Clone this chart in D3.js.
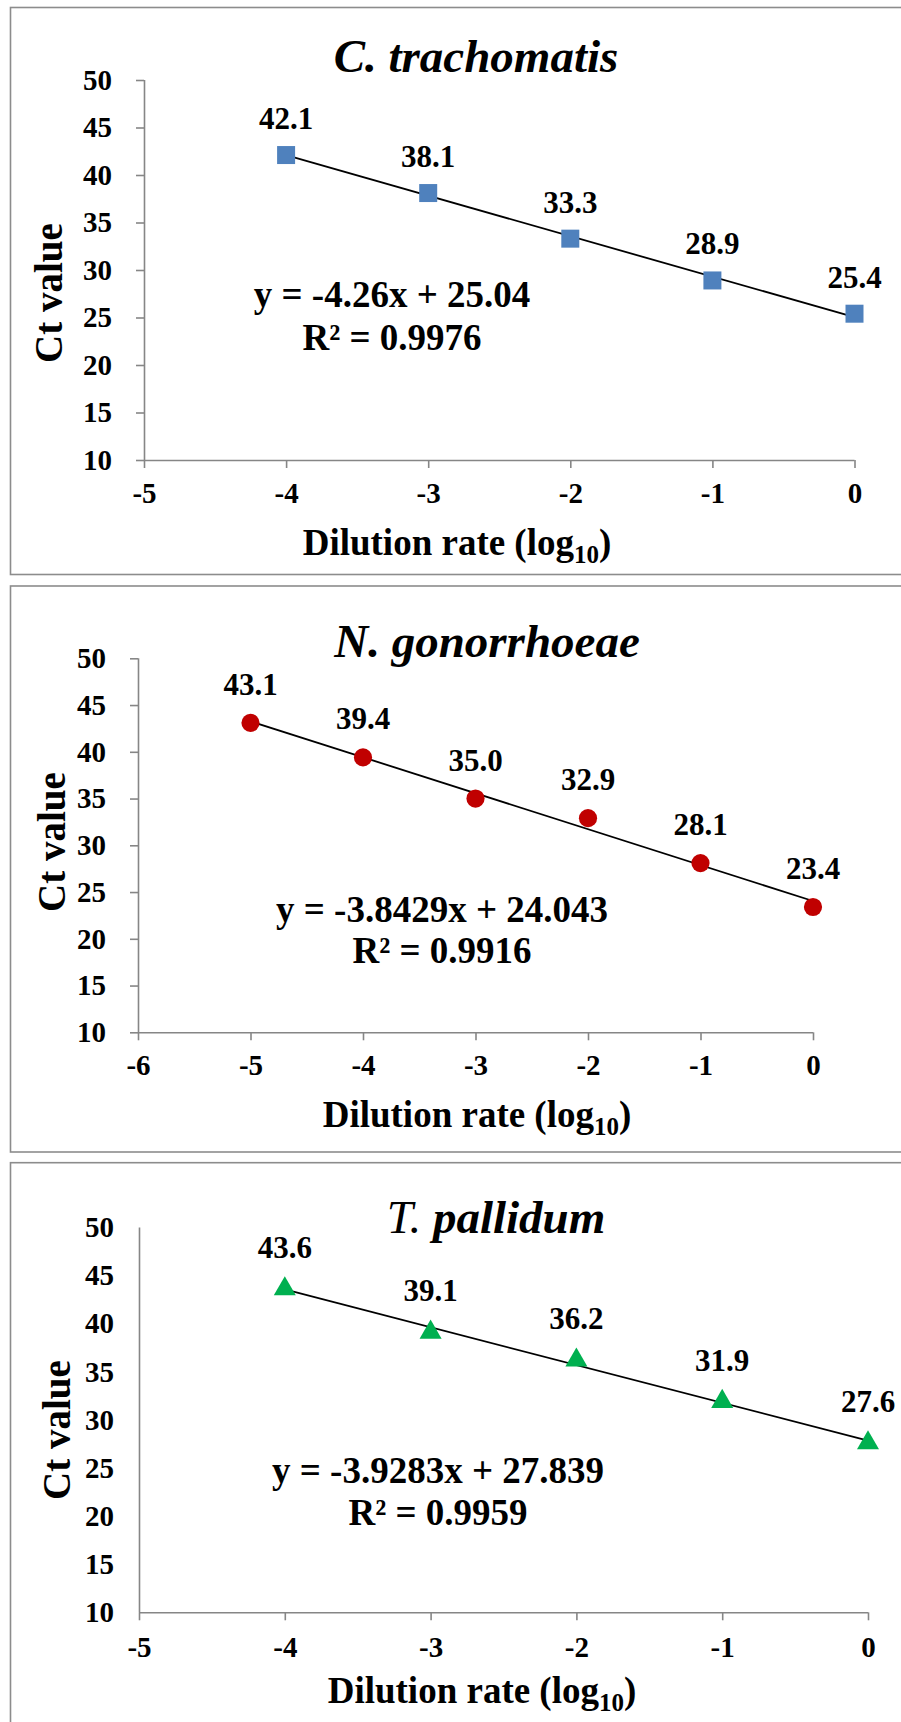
<!DOCTYPE html>
<html>
<head>
<meta charset="utf-8">
<script src="https://cdn.jsdelivr.net/npm/d3@7/dist/d3.min.js"></script>
<style>
  html, body { margin: 0; padding: 0; background: #ffffff; }
  svg { display: block; }
  text { font-family: "Liberation Serif", "Times New Roman", serif; font-weight: bold; fill: #000; }
</style>
</head>
<body>
<svg id="chart" width="901" height="1722"></svg>
<script>
// ---------- DATA ----------
const ctDilution = [-4, -3, -2, -1, 0];
const ctValues   = [42.1, 38.1, 33.3, 28.9, 25.4];
const ctFit      = { slope: -4.26, intercept: 25.04 };
const ctEquation = ["y = -4.26x + 25.04", "0.9976"];

const ngDilution = [-5, -4, -3, -2, -1, 0];
const ngValues   = [43.1, 39.4, 35.0, 32.9, 28.1, 23.4];
const ngFit      = { slope: -3.8429, intercept: 24.043 };
const ngEquation = ["y = -3.8429x + 24.043", "0.9916"];

const tpDilution = [-4, -3, -2, -1, 0];
const tpValues   = [43.6, 39.1, 36.2, 31.9, 27.6];
const tpFit      = { slope: -3.9283, intercept: 27.839 };
const tpEquation = ["y = -3.9283x + 27.839", "0.9959"];

const yTickValues  = [10, 15, 20, 25, 30, 35, 40, 45, 50];
const xTicksFive   = [-5, -4, -3, -2, -1, 0];
const xTicksSix    = [-6, -5, -4, -3, -2, -1, 0];
const titles       = [["C. ", "trachomatis"], ["N. ", "gonorrhoeae"], ["T. ", "pallidum"]];
const yAxisTitle   = "Ct value";
const xAxisTitle   = ["Dilution rate (log", "10", ")"];

// ---------- LAYOUT ----------
const panels = [
  { xs: ctDilution, ys: ctValues, fit: ctFit, eq: ctEquation, title: titles[0], xTicks: xTicksFive,
    xDomain: [-5, 0], color: "#4F81BD", marker: "square",
    box: { y: 7.5, h: 567 }, x0: 144, x1: 854.5, yTop: 80, yBot: 460,
    titleX: 476, titleY: 72, titleBoldPrefix: true,
    eqX: 392, eqY1: 307, eqY2: 350, ctX: 62, ctY: 293, xtX: 457, xtY: 555,
    labelOff: 26, yTicksShown: true, yLabelGap: 32, xLabelOff: 43 },
  { xs: ngDilution, ys: ngValues, fit: ngFit, eq: ngEquation, title: titles[1], xTicks: xTicksSix,
    xDomain: [-6, 0], color: "#C00000", marker: "circle",
    box: { y: 586, h: 566 }, x0: 138, x1: 813, yTop: 658.3, yBot: 1032.3,
    titleX: 487, titleY: 657, titleBoldPrefix: true,
    eqX: 442, eqY1: 922, eqY2: 963, ctX: 65, ctY: 842, xtX: 477, xtY: 1127,
    labelOff: 28, yTicksShown: true, yLabelGap: 32, xLabelOff: 43 },
  { xs: tpDilution, ys: tpValues, fit: tpFit, eq: tpEquation, title: titles[2], xTicks: xTicksFive,
    xDomain: [-5, 0], color: "#00B050", marker: "triangle",
    box: { y: 1162.7, h: 575 }, x0: 139, x1: 868, yTop: 1227.4, yBot: 1612.3,
    titleX: 496, titleY: 1233, titleBoldPrefix: false,
    eqX: 438, eqY1: 1483, eqY2: 1525, ctX: 70, ctY: 1430, xtX: 482, xtY: 1703,
    labelOff: 31, yTicksShown: false, yLabelGap: 25, xLabelOff: 45 }
];

const svg = d3.select("#chart");
const AXIS_COLOR = "#868686";
const plainFmt = d => String(d);

panels.forEach(p => {
  const g = svg.append("g");

  // outer frame
  g.append("rect")
    .attr("x", 10.5).attr("y", p.box.y)
    .attr("width", 900).attr("height", p.box.h)
    .attr("fill", "#fff").attr("stroke", "#8c8c8c").attr("stroke-width", 1.6);

  const x = d3.scaleLinear().domain(p.xDomain).range([p.x0, p.x1]);
  const y = d3.scaleLinear().domain([10, 50]).range([p.yBot, p.yTop]);

  // Y axis
  const yAxis = d3.axisLeft(y).tickValues(yTickValues).tickFormat(plainFmt)
    .tickSize(p.yTicksShown ? 8 : 0).tickPadding(p.yLabelGap - (p.yTicksShown ? 8 : 0));
  const ya = g.append("g").attr("transform", `translate(${p.x0},0)`).call(yAxis);
  ya.select(".domain").attr("stroke", AXIS_COLOR).attr("stroke-width", 1.6)
    .attr("d", `M0.5,${p.yTop}V${p.yBot}`);
  ya.selectAll(".tick line").attr("stroke", AXIS_COLOR).attr("stroke-width", 1.6);
  ya.selectAll(".tick text")
    .attr("font-family", "Liberation Serif, Times New Roman, serif")
    .attr("font-weight", "bold").attr("font-size", 29).attr("fill", "#000");

  // X axis
  const xAxis = d3.axisBottom(x).tickValues(p.xTicks).tickFormat(plainFmt)
    .tickSize(8).tickPadding(0);
  const xa = g.append("g").attr("transform", `translate(0,${p.yBot})`).call(xAxis);
  xa.select(".domain").attr("stroke", AXIS_COLOR).attr("stroke-width", 1.6)
    .attr("d", `M${p.x0},0.5H${p.x1}`);
  xa.selectAll(".tick line").attr("stroke", AXIS_COLOR).attr("stroke-width", 1.6);
  xa.selectAll(".tick text")
    .attr("font-family", "Liberation Serif, Times New Roman, serif")
    .attr("font-weight", "bold").attr("font-size", 29).attr("fill", "#000")
    .attr("dy", null).attr("y", p.xLabelOff);

  // trendline
  const xd = d3.extent(p.xs);
  g.append("line")
    .attr("x1", x(xd[0])).attr("y1", y(p.fit.slope * xd[0] + p.fit.intercept))
    .attr("x2", x(xd[1])).attr("y2", y(p.fit.slope * xd[1] + p.fit.intercept))
    .attr("stroke", "#000").attr("stroke-width", 1.8);

  const pts = p.xs.map((d, i) => ({ x: d, y: p.ys[i] }));

  // markers
  const sym = p.marker === "square" ? d3.symbolSquare : p.marker === "circle" ? d3.symbolCircle : d3.symbolTriangle;
  const symSize = p.marker === "square" ? 324 : p.marker === "circle" ? 260 : 210;
  g.selectAll("path.mk").data(pts).join("path")
    .attr("class", "mk")
    .attr("d", d3.symbol(sym, symSize))
    .attr("transform", d => `translate(${x(d.x)},${y(d.y)})`)
    .attr("fill", p.color);

  // data labels
  g.selectAll("text.lbl").data(pts).join("text")
    .attr("class", "lbl")
    .attr("x", d => x(d.x)).attr("y", d => y(d.y) - p.labelOff)
    .attr("text-anchor", "middle").attr("font-size", 31)
    .text(d => d3.format(".1f")(d.y));

  // title
  const t = g.append("text").attr("x", p.titleX).attr("y", p.titleY)
    .attr("text-anchor", "middle").attr("font-size", 47).attr("font-style", "italic");
  t.append("tspan").attr("font-weight", p.titleBoldPrefix ? "bold" : "normal").text(p.title[0]);
  t.append("tspan").text(p.title[1]);

  // equation
  g.append("text").attr("x", p.eqX).attr("y", p.eqY1).attr("text-anchor", "middle")
    .attr("font-size", 37).text(p.eq[0]);
  g.append("text").attr("x", p.eqX).attr("y", p.eqY2).attr("text-anchor", "middle")
    .attr("font-size", 37).text("R² = " + p.eq[1]);

  // y axis title
  g.append("text").attr("transform", `translate(${p.ctX},${p.ctY}) rotate(-90)`)
    .attr("text-anchor", "middle").attr("font-size", 39).text(yAxisTitle);

  // x axis title
  const xt = g.append("text").attr("x", p.xtX).attr("y", p.xtY)
    .attr("text-anchor", "middle").attr("font-size", 37);
  xt.append("tspan").text(xAxisTitle[0]);
  xt.append("tspan").attr("font-size", 25).attr("dy", 8).text(xAxisTitle[1]);
  xt.append("tspan").attr("dy", -8).text(xAxisTitle[2]);
});
</script>
</body>
</html>
